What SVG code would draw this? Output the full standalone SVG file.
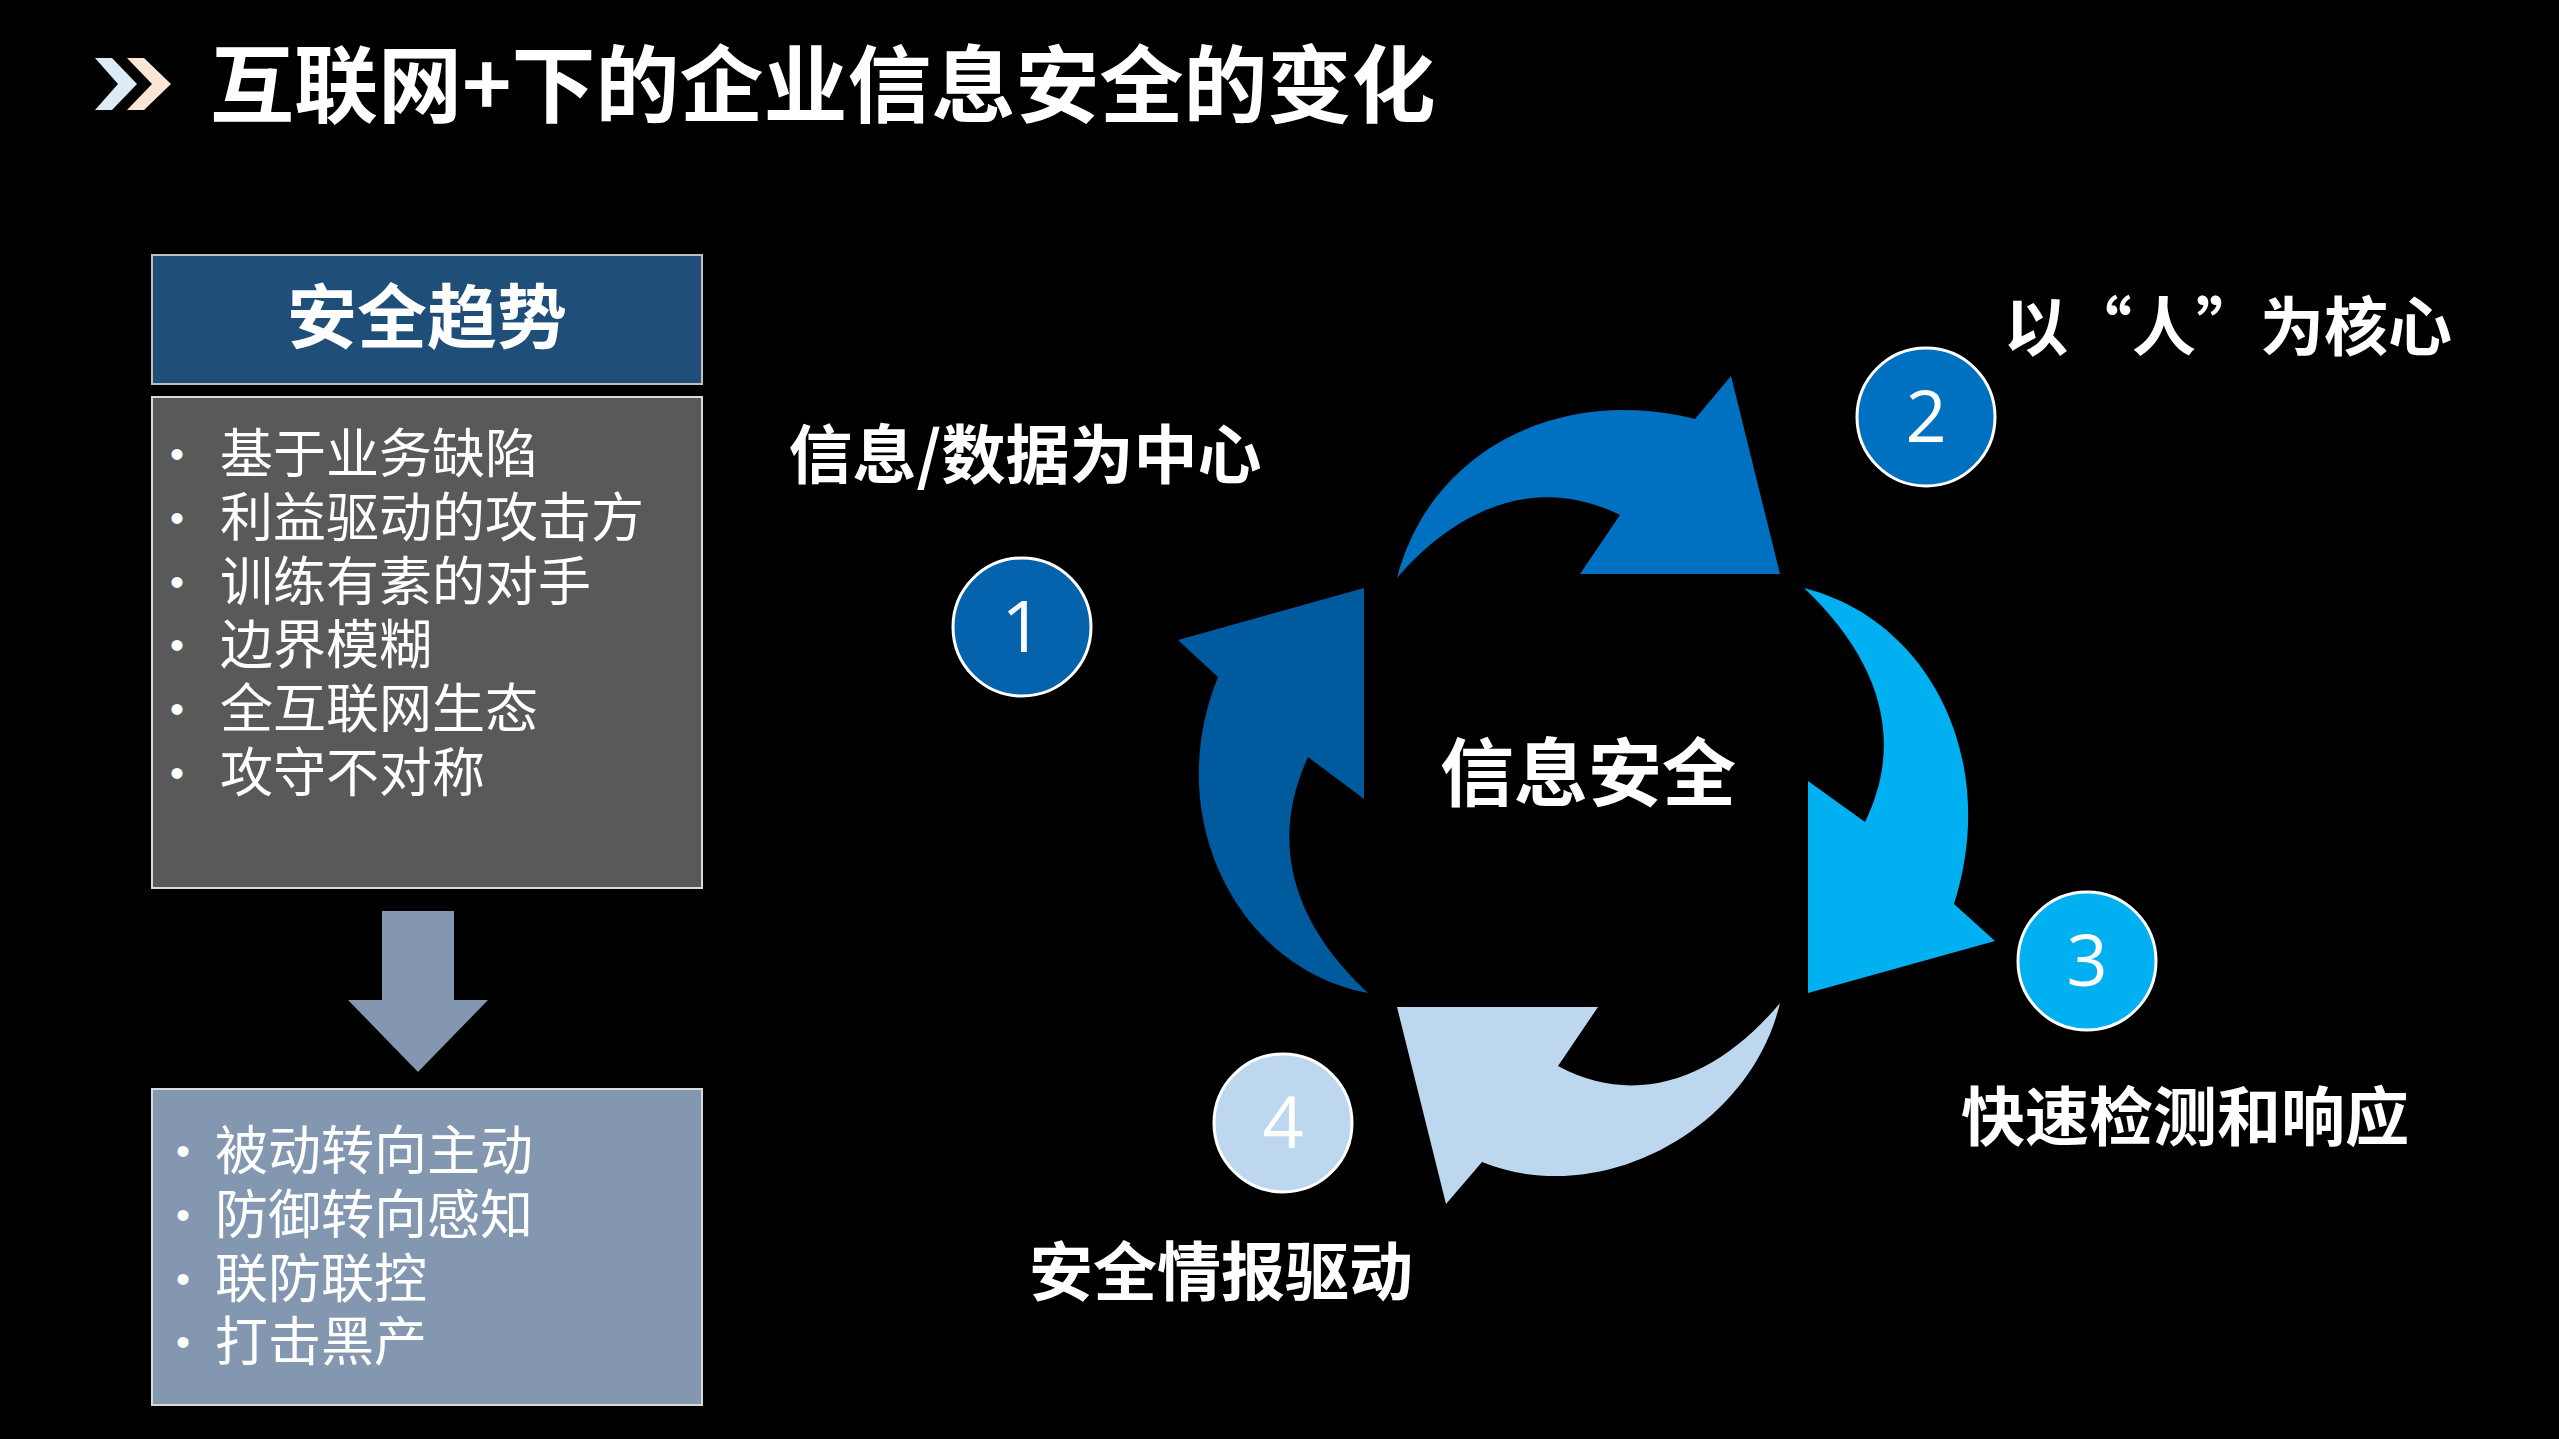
<svg xmlns="http://www.w3.org/2000/svg" width="2559" height="1439" viewBox="0 0 2559 1439">
<style>
.t{font-family:"Noto Sans CJK SC","Liberation Sans",sans-serif;fill:#fff}
.b{font-weight:bold}
.li{font-size:53px}
.bu{font-family:"Liberation Sans",sans-serif;font-size:40px;fill:#fff}
.num{font-family:"Open Sans","Liberation Sans",sans-serif;font-size:72px;fill:#fff;text-anchor:middle}
.c{stroke:#fff;stroke-width:3}
</style>
<rect width="2559" height="1439" fill="#000"/>
<g id="title">
<polygon points="95,58 112,58 137,84 112,110 95,110 118,84" fill="#DDEBF7"/>
<polygon points="127,58 144,58 171,84 144,110 127,110 152,84" fill="#FBE5D6"/>
<text class="t b" x="210" y="116" font-size="84">互联网+下的企业信息安全的变化</text>
</g>
<g id="header">
<rect x="152" y="255" width="550" height="129" fill="#1F4E79" stroke="#BFBFBF" stroke-width="2"/>
<text class="t b" x="427" y="343" font-size="70" text-anchor="middle">安全趋势</text>
</g>
<g id="trends">
<rect x="152" y="397" width="550" height="491" fill="#595959" stroke="#D9D9D9" stroke-width="2"/>
<g class="bu">
<text x="170" y="468">•</text><text x="170" y="532">•</text><text x="170" y="596">•</text><text x="170" y="659">•</text><text x="170" y="723">•</text><text x="170" y="787">•</text>
</g>
<g class="t li">
<text x="220" y="473">基于业务缺陷</text>
<text x="220" y="537">利益驱动的攻击方</text>
<text x="220" y="601">训练有素的对手</text>
<text x="220" y="664">边界模糊</text>
<text x="220" y="728">全互联网生态</text>
<text x="220" y="792">攻守不对称</text>
</g>
</g>
<g id="downarrow">
<polygon points="382,911 454,911 454,1000 488,1000 418,1072 348,1000 382,1000" fill="#8497B0"/>
</g>
<g id="changes">
<rect x="152" y="1089" width="550" height="316" fill="#8497B0" stroke="#D9D9D9" stroke-width="2"/>
<g class="bu">
<text x="176" y="1165">•</text><text x="176" y="1229">•</text><text x="176" y="1293">•</text><text x="176" y="1356">•</text>
</g>
<g class="t li">
<text x="215" y="1170">被动转向主动</text>
<text x="215" y="1234">防御转向感知</text>
<text x="215" y="1298">联防联控</text>
<text x="215" y="1361">打击黑产</text>
</g>
</g>
<g id="connectors">
<path d="M1397,578 C1430,450 1560,385 1695,419 L1731,376 L1780,574 L1580,574 L1620,515 C1540,475 1460,505 1397,578 Z" fill="#0070C0"/>
<path d="M1804,588 C1930,620 2000,760 1954,904 L1995,941 L1808,993 L1808,781 L1865,822 C1905,740 1880,660 1804,588 Z" fill="#00B0F0"/>
<path d="M1780,1003 C1750,1130 1600,1210 1482,1162 L1446,1204 L1397,1007 L1598,1007 L1558,1066 C1640,1110 1720,1075 1780,1003 Z" fill="#BDD7EE"/>
<path d="M1368,993 C1240,970 1160,820 1218,677 L1178,640 L1364,588 L1364,799 L1308,757 C1270,840 1290,920 1368,993 Z" fill="#005A9E"/>
</g>
<g id="center"><text class="t b" x="1588" y="800" font-size="74" text-anchor="middle">信息安全</text></g>
<g id="n1"><circle class="c" cx="1022" cy="627" r="69" fill="#0563AE"/><text class="num" x="1022" y="652">1</text>
<text class="t b" x="1025" y="478" font-size="64" text-anchor="middle">信息/数据为中心</text></g>
<g id="n2"><circle class="c" cx="1926" cy="417" r="69" fill="#0070C0"/><text class="num" x="1926" y="442">2</text>
<text class="t b" x="2228" y="350" font-size="64" text-anchor="middle">以“人”为核心</text></g>
<g id="n3"><circle class="c" cx="2087" cy="961" r="69" fill="#00B0F0"/><text class="num" x="2087" y="986">3</text>
<text class="t b" x="2185" y="1140" font-size="64" text-anchor="middle">快速检测和响应</text></g>
<g id="n4"><circle class="c" cx="1283" cy="1123" r="69" fill="#BDD7EE"/><text class="num" x="1283" y="1148">4</text>
<text class="t b" x="1221" y="1295" font-size="64" text-anchor="middle">安全情报驱动</text></g>
</svg>
